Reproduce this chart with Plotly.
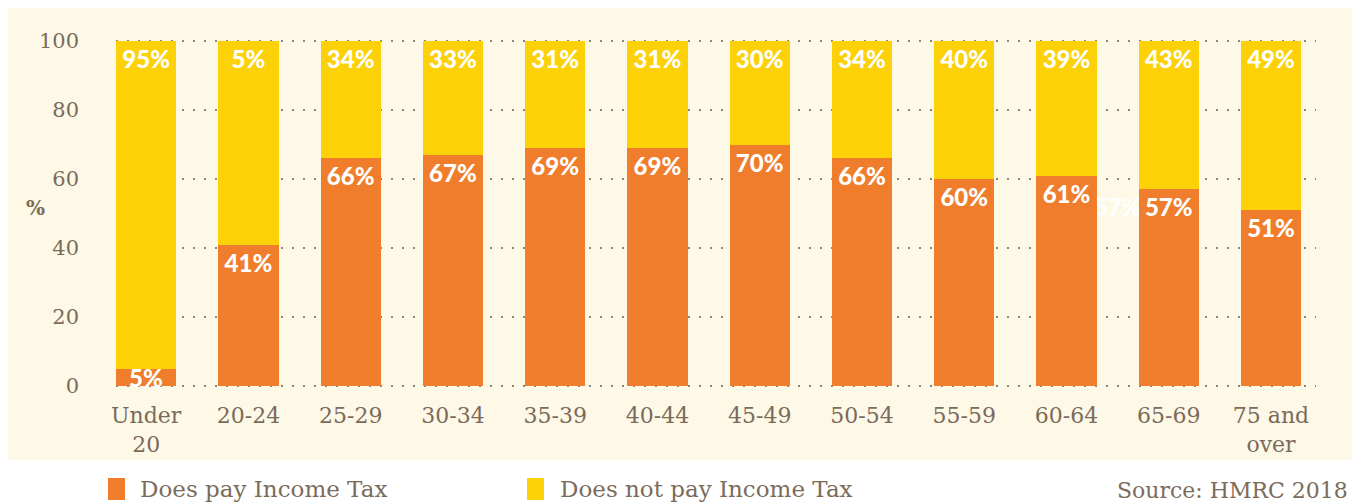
import plotly.graph_objects as go

categories = ["Under<br>20", "20-24", "25-29", "30-34", "35-39", "40-44",
              "45-49", "50-54", "55-59", "60-64", "65-69", "75 and<br>over"]
pay_values = [5, 41, 66, 67, 69, 69, 70, 66, 60, 61, 57, 51]
pay_labels = ["5%", "41%", "66%", "67%", "69%", "69%", "70%", "66%", "60%", "61%", "57%", "51%"]
notpay_values = [95, 59, 34, 33, 31, 31, 30, 34, 40, 39, 43, 49]
notpay_labels = ["95%", "5%", "34%", "33%", "31%", "31%", "30%", "34%", "40%", "39%", "43%", "49%"]
y_ticks = [0, 20, 40, 60, 80, 100]
series_names = ["Does pay Income Tax", "Does not pay Income Tax"]

ORANGE = "#EF7D2C"
YELLOW = "#FDD108"
CREAM = "#FEF8E7"
BROWN = "#7B6B5B"
SERIF = "DejaVu Serif"
BOLD = "Lato"
LABEL_FONT = dict(family=BOLD, size=24, color="white", weight=900)

# plot area on the page: left 116, top 40, width 1200, height 347
PL, PT, PW, PH = 116, 40, 1200, 347
def px(page_x):
    return (page_x - PL) / PW
def py(page_y):
    return (PT + PH - page_y) / PH

xs = list(range(len(categories)))
# labels that fit in their bars go on the bar; the tiny first one is centred on it
pay_bar_text = [""] + pay_labels[1:]

fig = go.Figure()
# stray label left behind in the original, sitting behind the bars
fig.add_trace(go.Scatter(x=[9.5], y=[51], mode="text", text=["57%"],
                         textfont=LABEL_FONT, showlegend=False, hoverinfo="skip", zorder=-1))
fig.add_trace(go.Bar(x=xs, y=pay_values, name=series_names[0],
                     marker=dict(color=ORANGE, line=dict(width=0)),
                     text=pay_bar_text, textposition="inside", insidetextanchor="end",
                     textangle=0, constraintext="none", textfont=LABEL_FONT,
                     showlegend=False))
fig.add_trace(go.Bar(x=xs, y=notpay_values, name=series_names[1],
                     marker=dict(color=YELLOW, line=dict(width=0)),
                     text=notpay_labels, textposition="inside", insidetextanchor="end",
                     textangle=0, constraintext="none", textfont=LABEL_FONT,
                     showlegend=False))

shapes = [dict(type="rect", xref="paper", yref="paper",
               x0=px(5), x1=px(1352), y0=py(460), y1=py(7),
               fillcolor=CREAM, line=dict(width=0), layer="below")]
# legend swatches
for left, col in [(108, ORANGE), (527, YELLOW)]:
    shapes.append(dict(type="rect", xref="paper", yref="paper",
                       x0=px(left), x1=px(left + 17), y0=py(478), y1=py(500),
                       fillcolor=col, line=dict(width=0)))

text_font = dict(family=SERIF, size=23, color=BROWN)
annotations = [
    dict(x=0, y=pay_values[0] / 2, xref="x", yref="y", text=pay_labels[0],
         showarrow=False, font=LABEL_FONT, xanchor="center", yanchor="middle"),
    dict(text="%", xref="paper", yref="paper", x=px(35), y=py(208),
         xanchor="center", yanchor="middle", showarrow=False,
         font=dict(family=SERIF, size=20, color=BROWN, weight="bold")),
    dict(text="Source: HMRC 2018", xref="paper", yref="paper", x=px(1350), y=py(490),
         xanchor="right", yanchor="middle", showarrow=False,
         font=dict(family=SERIF, size=22, color=BROWN)),
    dict(text=series_names[0], xref="paper", yref="paper", x=px(138), y=py(489),
         xanchor="left", yanchor="middle", showarrow=False, font=text_font),
    dict(text=series_names[1], xref="paper", yref="paper", x=px(558), y=py(489),
         xanchor="left", yanchor="middle", showarrow=False, font=text_font),
]

# the page body has an 8px default margin, so the figure is sized to fit the window
FIG_W, FIG_H = 1357, 496
fig.update_layout(
    width=FIG_W, height=FIG_H,
    barmode="stack", bargap=0.41,
    paper_bgcolor="white", plot_bgcolor="rgba(0,0,0,0)",
    margin=dict(l=PL - 8, r=FIG_W - (PL - 8) - PW, t=PT - 8, b=FIG_H - (PT - 8) - PH,
                autoexpand=False),
    font=dict(family=SERIF, color=BROWN, size=21),
    shapes=shapes,
    annotations=annotations,
    showlegend=False,
)
fig.update_xaxes(tickmode="array", tickvals=xs, ticktext=categories,
                 range=[-0.295, len(categories) - 1 + 0.44], showgrid=False, zeroline=False,
                 showline=False, ticks="", ticklabelstandoff=13, automargin=False,
                 tickfont=dict(family=SERIF, size=22, color=BROWN))
fig.update_yaxes(range=[-0.3, 100.3], tickvals=y_ticks, showgrid=True, gridcolor="#8F8376",
                 griddash="2px,9px", gridwidth=1.5, zeroline=False, showline=False,
                 ticks="", ticklabelstandoff=36, automargin=False,
                 tickfont=dict(family=SERIF, size=21, color=BROWN))

fig.write_html("out.html")
